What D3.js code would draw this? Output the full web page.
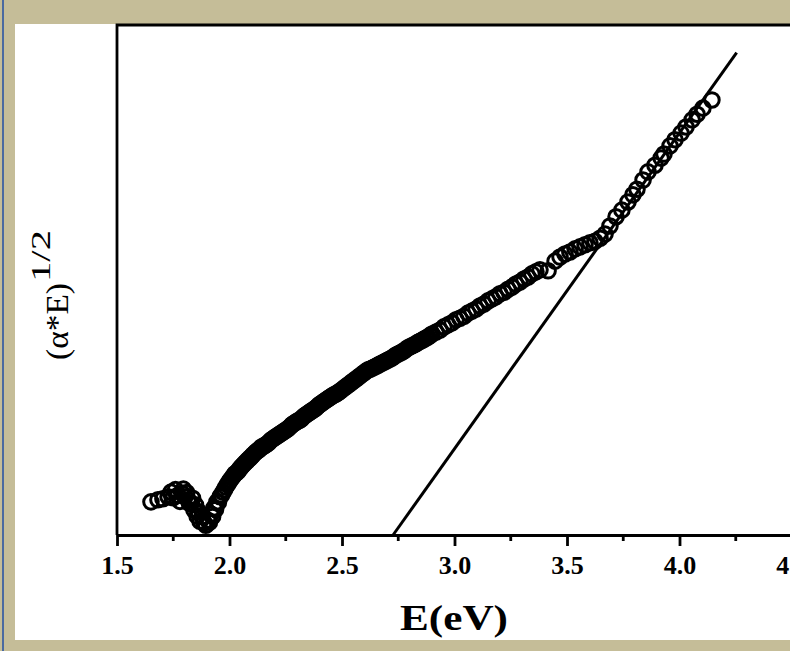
<!DOCTYPE html>
<html>
<head>
<meta charset="utf-8">
<script src="https://cdn.jsdelivr.net/npm/d3@7"></script>
<style>
  html, body { margin: 0; padding: 0; background: #c5bd98; }
  svg { display: block; }
</style>
</head>
<body>
<div id="graph-container"></div>
<script>
const width = 790;
const height = 651;
const marginTop = 25;
const marginLeft = 117;
const axisY = 535;

// measured points: photon energy (eV) and (alpha*E)^1/2 in arbitrary units
const energy = [
  1.651, 1.682, 1.704, 1.727, 1.740, 1.749, 1.760, 1.771, 1.780, 1.789,
  1.795, 1.802, 1.810, 1.816, 1.822, 1.829, 1.836, 1.842, 1.849, 1.856,
  1.862, 1.869, 1.878, 1.887, 1.895, 1.904, 1.911, 1.918, 1.925, 1.931,
  1.938, 1.944, 1.951, 1.958, 1.964, 1.971, 1.978, 1.984, 1.991, 1.998,
  2.004, 2.011, 2.018, 2.024, 2.031, 2.038, 2.044, 2.051, 2.058, 2.064,
  2.071, 2.078, 2.084, 2.091, 2.098, 2.104, 2.111, 2.118, 2.124, 2.131,
  2.138, 2.144, 2.151, 2.158, 2.164, 2.171, 2.178, 2.184, 2.191, 2.198,
  2.204, 2.211, 2.218, 2.224, 2.231, 2.238, 2.244, 2.251, 2.258, 2.264,
  2.271, 2.278, 2.284, 2.291, 2.298, 2.304, 2.311, 2.318, 2.324, 2.331,
  2.338, 2.344, 2.351, 2.358, 2.364, 2.371, 2.378, 2.384, 2.391, 2.398,
  2.404, 2.411, 2.418, 2.424, 2.431, 2.438, 2.444, 2.451, 2.458, 2.464,
  2.471, 2.478, 2.484, 2.491, 2.500, 2.509, 2.518, 2.527, 2.536, 2.544,
  2.553, 2.562, 2.571, 2.580, 2.589, 2.598, 2.607, 2.616, 2.624, 2.633,
  2.642, 2.651, 2.660, 2.669, 2.678, 2.687, 2.696, 2.704, 2.713, 2.722,
  2.731, 2.740, 2.749, 2.758, 2.767, 2.776, 2.784, 2.793, 2.802, 2.811,
  2.820, 2.829, 2.838, 2.847, 2.856, 2.864, 2.873, 2.882, 2.891, 2.900,
  2.918, 2.936, 2.953, 2.971, 2.989, 3.007, 3.024, 3.042,
  3.060, 3.078, 3.096, 3.113, 3.131, 3.149, 3.167, 3.184, 3.202, 3.220,
  3.238, 3.256, 3.273, 3.291, 3.309, 3.327, 3.344, 3.362, 3.380, 3.416,
  3.447, 3.469, 3.491, 3.513, 3.536, 3.558, 3.580, 3.602, 3.624, 3.647,
  3.669, 3.691, 3.718, 3.744, 3.771, 3.793, 3.811, 3.838, 3.860, 3.891,
  3.918, 3.931, 3.958, 3.980, 4.007, 4.029, 4.056, 4.078, 4.104, 4.144
];
const absorption = [
  6.5, 6.9, 7.1, 7.5, 8.4, 7.3, 8.9, 7.8, 6.6, 8.2,
  9.0, 7.5, 8.3, 6.9, 6.2, 6.1, 7.2, 4.9, 5.9, 3.7,
  4.6, 2.7, 3.6, 2.4, 1.9, 2.9, 2.5, 4.1, 3.6, 5.3,
  5.0, 6.5, 6.4, 7.5, 7.8, 8.4, 8.9, 9.4, 9.9, 10.4,
  10.8, 11.2, 11.6, 12.0, 12.2, 12.5, 12.9, 13.3, 13.6, 13.9,
  14.2, 14.5, 14.8, 15.1, 15.4, 15.7, 16.0, 16.3, 16.5, 16.7,
  17.0, 17.3, 17.4, 17.6, 17.8, 18.0, 18.3, 18.6, 18.8, 19.0,
  19.2, 19.4, 19.6, 19.8, 20.0, 20.2, 20.4, 20.6, 20.8, 21.0,
  21.3, 21.6, 21.8, 22.0, 22.2, 22.4, 22.5, 22.7, 23.0, 23.3,
  23.5, 23.7, 23.9, 24.1, 24.3, 24.5, 24.7, 24.9, 25.2, 25.5,
  25.7, 25.9, 26.1, 26.3, 26.5, 26.7, 26.9, 27.1, 27.3, 27.5,
  27.6, 27.8, 28.0, 28.2, 28.5, 28.8, 29.1, 29.4, 29.7, 30.0,
  30.3, 30.6, 30.9, 31.2, 31.5, 31.8, 32.1, 32.4, 32.5, 32.7,
  32.9, 33.1, 33.3, 33.5, 33.7, 33.9, 34.1, 34.3, 34.5, 34.7,
  35.0, 35.3, 35.5, 35.7, 35.9, 36.1, 36.4, 36.7, 36.9, 37.1,
  37.3, 37.5, 37.8, 38.0, 38.2, 38.4, 38.6, 38.8, 39.1, 39.4,
  39.8, 40.2, 40.8, 41.2, 41.6, 42.2, 42.5, 42.9,
  43.5, 43.9, 44.3, 44.9, 45.3, 45.9, 46.3, 46.7, 47.3, 47.6,
  48.2, 48.6, 49.2, 49.6, 50.2, 50.6, 51.2, 51.6, 52.0, 51.8,
  53.7, 54.5, 55.1, 55.5, 56.1, 56.5, 56.9, 57.3, 57.6, 58.2,
  59.0, 60.6, 62.4, 63.7, 65.3, 66.7, 67.8, 69.6, 71.2, 72.5,
  73.9, 74.7, 76.3, 77.5, 78.8, 80.0, 81.4, 82.5, 83.7, 85.3
];

// linear fit (Tauc extrapolation)
const fitE = [2.727, 4.254];
const fitY = [0, 94.6];

const tickValues = [1.5, 2.0, 2.5, 3.0, 3.5, 4.0, 4.5];
const minorTicks = [1.75, 2.25, 2.75, 3.25, 3.75, 4.25];

const data = energy.map((e, i) => ({e: e, y: absorption[i]}));

const serif = "'Liberation Serif', 'Times New Roman', serif";

const svg = d3.select("#graph-container").append("svg")
    .attr("width", width)
    .attr("height", height);

// background frame
svg.append("rect").attr("width", width).attr("height", height).attr("fill", "#c5bd98");
svg.append("rect").attr("x", 15).attr("y", 24).attr("width", width - 15).attr("height", 616).attr("fill", "#fff");
svg.append("rect").attr("x", 2).attr("y", 0).attr("width", 2).attr("height", height).attr("fill", "#4a6aa0");

const x = d3.scaleLinear().domain([1.5, 4.5]).range([marginLeft, marginLeft + 675]);
const y = d3.scaleLinear().domain([0, 100]).range([axisY, axisY - 510]);

// axes box (top and left)
svg.append("path")
    .attr("d", `M${x(1.5)},${axisY}V${marginTop}H${width}`)
    .attr("fill", "none")
    .attr("stroke", "#000")
    .attr("stroke-width", 2.8);

// bottom axis
const xAxis = svg.append("g")
    .attr("transform", `translate(0,${axisY})`)
    .call(d3.axisBottom(x).tickValues(tickValues).tickSize(11).tickSizeOuter(0).tickFormat(d3.format(".1f")).tickPadding(10))
    .call(g => g.select(".domain").attr("stroke-width", 2.8))
    .call(g => g.selectAll(".tick line").attr("stroke-width", 2.8))
    .call(g => g.selectAll(".tick text")
        .attr("font-family", serif)
        .attr("font-weight", "bold")
        .attr("font-size", 26)
        .attr("fill", "#000"));

xAxis.append("g")
    .selectAll("line")
    .data(minorTicks)
    .join("line")
    .attr("x1", d => x(d))
    .attr("x2", d => x(d))
    .attr("y1", 0)
    .attr("y2", 6)
    .attr("stroke", "#000")
    .attr("stroke-width", 2.8);

// fit line
svg.append("line")
    .attr("x1", x(fitE[0]))
    .attr("y1", y(fitY[0]))
    .attr("x2", x(fitE[1]))
    .attr("y2", y(fitY[1]))
    .attr("stroke", "#000")
    .attr("stroke-width", 3);

// data circles
svg.append("g")
    .attr("fill", "none")
    .attr("stroke", "#000")
    .attr("stroke-width", 3)
    .selectAll("circle")
    .data(data)
    .join("circle")
    .attr("cx", d => x(d.e))
    .attr("cy", d => y(d.y))
    .attr("r", 7.3);

// axis titles
svg.append("text")
    .attr("x", 454)
    .attr("y", 630)
    .attr("text-anchor", "middle")
    .attr("font-family", serif)
    .attr("font-weight", "bold")
    .attr("font-size", 36)
    .attr("textLength", 108)
    .attr("lengthAdjust", "spacingAndGlyphs")
    .text("E(eV)");

svg.append("text")
    .attr("transform", "translate(68,360) rotate(-90)")
    .attr("font-family", serif)
    .attr("font-size", 31)
    .attr("textLength", 77)
    .attr("lengthAdjust", "spacingAndGlyphs")
    .text("(α*E)");

svg.append("text")
    .attr("transform", "translate(50,282) rotate(-90)")
    .attr("font-family", serif)
    .attr("font-size", 27)
    .attr("textLength", 52)
    .attr("lengthAdjust", "spacingAndGlyphs")
    .text("1/2");
</script>
</body>
</html>
